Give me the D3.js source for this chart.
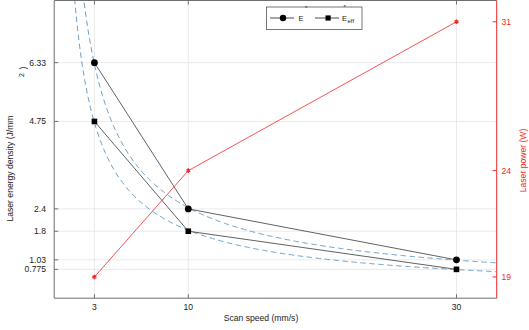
<!DOCTYPE html>
<html>
<head>
<meta charset="utf-8">
<script src="https://cdn.jsdelivr.net/npm/d3@7/dist/d3.min.js"></script>
<style>
  html, body { margin: 0; padding: 0; background: #fff; }
  svg { display: block; font-family: "Liberation Sans", Arial, Helvetica, sans-serif; }
</style>
</head>
<body>
<svg id="chart" width="529" height="330"></svg>
<script>
// Scan speeds (mm/s)
const scanSpeed = [3, 10, 30];
// Laser energy density E* and effective density E_eff (J/mm^2)
const energyStar = [6.33, 2.4, 1.03];
const energyEff = [4.75, 1.8, 0.775];
// Laser power (W)
const laserPower = [19, 24, 31];

const xTicks = [3, 10, 30];
const yLeftTicks = [0.775, 1.03, 1.8, 2.4, 4.75, 6.33];
const yRightTicks = [19, 24, 31];

const svg = d3.select("#chart");
const L = 54.2, R = 496.7, T = 0.5, B = 298.2;
const FONT = 8.6;
const axisGray = "#6f6f6f";
const gridGray = "#e4e4e4";
const red = "#f02828";
const blue = "#6b9fc9";

const x = d3.scaleLinear().domain([0, 33]).range([L, R]);
const yL = d3.scaleLinear().domain([0, 8]).range([B, T]);
const yR = d3.scaleLinear().domain([18, 32]).range([B, T]);

svg.append("defs").append("clipPath").attr("id", "plotClip")
  .append("rect").attr("x", L).attr("y", T).attr("width", R - L).attr("height", B - T);

// grid
const grid = svg.append("g");
grid.selectAll("line.gx").data(xTicks).join("line")
  .attr("x1", d => x(d)).attr("x2", d => x(d)).attr("y1", T).attr("y2", B)
  .attr("stroke", gridGray).attr("stroke-width", 0.8);
grid.selectAll("line.gy").data(yLeftTicks).join("line")
  .attr("x1", L).attr("x2", R).attr("y1", d => yL(d)).attr("y2", d => yL(d))
  .attr("stroke", gridGray).attr("stroke-width", 0.8);

// power-law fit E = a * v^b in log-log space
function powerFit(xs, ys) {
  const lx = xs.map(Math.log), ly = ys.map(Math.log);
  const mx = d3.mean(lx), my = d3.mean(ly);
  const b = d3.sum(lx.map((v, i) => (v - mx) * (ly[i] - my))) / d3.sum(lx.map(v => (v - mx) ** 2));
  const a = Math.exp(my - b * mx);
  return v => a * Math.pow(v, b);
}
const fitStar = powerFit(scanSpeed, energyStar);
const fitEff = powerFit(scanSpeed, energyEff);
const vSamples = d3.range(0.8, 33.5, 0.1);

const plot = svg.append("g").attr("clip-path", "url(#plotClip)");
const fitLine = f => d3.line().x(v => x(v)).y(v => yL(f(v)))(vSamples);
[fitStar, fitEff].forEach(f => {
  plot.append("path").attr("d", fitLine(f)).attr("fill", "none")
    .attr("stroke", blue).attr("stroke-width", 1).attr("stroke-dasharray", "5.5,3.5");
});

// data lines
const lineL = d3.line().x((d, i) => x(scanSpeed[i])).y(d => yL(d));
const lineR = d3.line().x((d, i) => x(scanSpeed[i])).y(d => yR(d));
plot.append("path").attr("d", lineL(energyStar)).attr("fill", "none")
  .attr("stroke", "#3a3a3a").attr("stroke-width", 0.8);
plot.append("path").attr("d", lineL(energyEff)).attr("fill", "none")
  .attr("stroke", "#3a3a3a").attr("stroke-width", 0.8);
plot.append("path").attr("d", lineR(laserPower)).attr("fill", "none")
  .attr("stroke", red).attr("stroke-width", 0.8);

// markers
plot.selectAll("circle.es").data(energyStar).join("circle")
  .attr("cx", (d, i) => x(scanSpeed[i])).attr("cy", d => yL(d)).attr("r", 3.4).attr("fill", "#000");
plot.selectAll("rect.ee").data(energyEff).join("rect")
  .attr("x", (d, i) => x(scanSpeed[i]) - 2.8).attr("y", d => yL(d) - 2.8)
  .attr("width", 5.6).attr("height", 5.6).attr("fill", "#000");
const starPath = d3.symbol().type(d3.symbolAsterisk).size(14)();
plot.selectAll("path.lp").data(laserPower).join("path")
  .attr("d", starPath)
  .attr("transform", (d, i) => `translate(${x(scanSpeed[i])},${yR(d)})`)
  .attr("fill", "none").attr("stroke", red).attr("stroke-width", 1.4);

// axes frame
const frame = svg.append("g");
frame.append("line").attr("x1", L).attr("x2", R).attr("y1", T).attr("y2", T).attr("stroke", axisGray).attr("stroke-width", 1);
frame.append("line").attr("x1", L).attr("x2", R).attr("y1", B).attr("y2", B).attr("stroke", axisGray).attr("stroke-width", 1);
frame.append("line").attr("x1", L).attr("x2", L).attr("y1", T).attr("y2", B).attr("stroke", axisGray).attr("stroke-width", 1);
frame.append("line").attr("x1", R).attr("x2", R).attr("y1", T).attr("y2", B).attr("stroke", red).attr("stroke-width", 1);

// ticks
const tl = 4;
frame.selectAll("line.xb").data(xTicks).join("line")
  .attr("x1", d => x(d)).attr("x2", d => x(d)).attr("y1", B).attr("y2", B - tl).attr("stroke", axisGray);
frame.selectAll("line.xt").data(xTicks).join("line")
  .attr("x1", d => x(d)).attr("x2", d => x(d)).attr("y1", T).attr("y2", T + tl).attr("stroke", axisGray);
frame.selectAll("line.yl").data(yLeftTicks).join("line")
  .attr("x1", L).attr("x2", L + tl).attr("y1", d => yL(d)).attr("y2", d => yL(d)).attr("stroke", axisGray);
frame.selectAll("line.yr").data(yRightTicks).join("line")
  .attr("x1", R).attr("x2", R - tl).attr("y1", d => yR(d)).attr("y2", d => yR(d)).attr("stroke", red);

// tick labels
const lab = svg.append("g").attr("font-size", FONT);
lab.selectAll("text.xl").data(xTicks).join("text")
  .attr("x", d => x(d)).attr("y", 310).attr("text-anchor", "middle").attr("fill", "#222").text(d => d);
lab.selectAll("text.yl").data(yLeftTicks).join("text")
  .attr("x", 46).attr("y", d => yL(d) + 3).attr("text-anchor", "end").attr("fill", "#222").text(d => d);
lab.selectAll("text.yr").data(yRightTicks).join("text")
  .attr("x", 501.5).attr("y", d => yR(d) + 3).attr("text-anchor", "start").attr("fill", red).text(d => d);

// axis titles
lab.append("text").attr("x", 261).attr("y", 321).attr("text-anchor", "middle").attr("fill", "#222")
  .text("Scan speed (mm/s)");
lab.append("text").attr("transform", "translate(13,168.5) rotate(-90)").attr("text-anchor", "middle")
  .attr("fill", "#222").text("Laser energy density (J/mm");
lab.append("text").attr("transform", "translate(24,75) rotate(-90)").attr("text-anchor", "middle")
  .attr("font-size", 7).attr("fill", "#222").text("2");
lab.append("text").attr("transform", "translate(25.5,68) rotate(-90)").attr("text-anchor", "middle")
  .attr("fill", "#222").text(")");
lab.append("text").attr("transform", "translate(526,160.5) rotate(-90)").attr("text-anchor", "middle")
  .attr("fill", red).text("Laser power (W)");

// legend
const lg = svg.append("g");
lg.append("rect").attr("x", 266.5).attr("y", 7).attr("width", 95.5).attr("height", 22.5)
  .attr("fill", "#fff").attr("stroke", "#555").attr("stroke-width", 0.8);
const ly = 18;
lg.append("line").attr("x1", 270).attr("x2", 294).attr("y1", ly).attr("y2", ly).attr("stroke", "#222").attr("stroke-width", 0.8);
lg.append("circle").attr("cx", 283).attr("cy", ly).attr("r", 3.2).attr("fill", "#000");
lg.append("text").attr("x", 298.5).attr("y", ly + 3).attr("font-size", FONT - 1).attr("fill", "#222").text("E");
lg.append("text").attr("x", 305).attr("y", 10).attr("font-size", 6).attr("fill", "#222").text("*");
lg.append("line").attr("x1", 315).attr("x2", 339).attr("y1", ly).attr("y2", ly).attr("stroke", "#222").attr("stroke-width", 0.8);
lg.append("rect").attr("x", 325.5).attr("y", ly - 2.6).attr("width", 5.2).attr("height", 5.2).attr("fill", "#000");
lg.append("text").attr("x", 342).attr("y", ly + 3).attr("font-size", FONT - 1).attr("fill", "#222").text("E");
lg.append("text").attr("x", 347.5).attr("y", ly + 5).attr("font-size", 6).attr("fill", "#222").text("eff");
lg.append("text").attr("x", 343.5).attr("y", 8.5).attr("font-size", 6).attr("fill", "#222").text("*");
</script>
</body>
</html>
